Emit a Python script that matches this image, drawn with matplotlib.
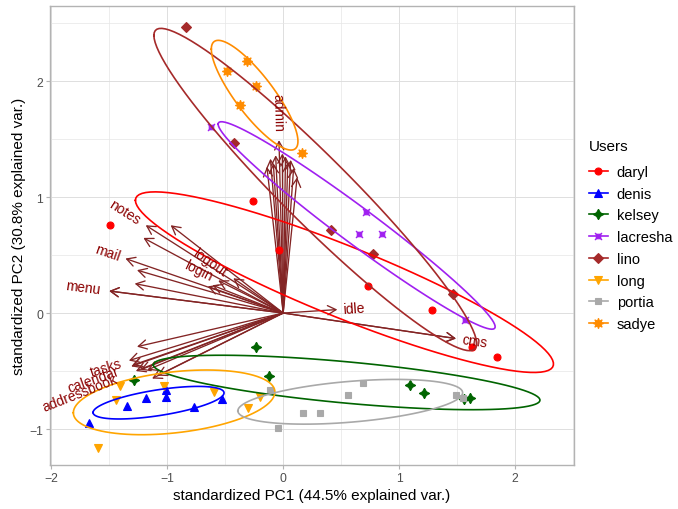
"""PCA biplot of users' feature usage (ggbiplot style)."""

import numpy as np
import matplotlib
matplotlib.use("Agg")
import matplotlib.pyplot as plt
from matplotlib.lines import Line2D
from matplotlib.path import Path

plt.rcParams["font.family"] = ["Liberation Sans", "DejaVu Sans"]

# ---- scores (standardized PC1, PC2) per user --------------------------------
users = ["daryl", "denis", "kelsey", "lacresha", "lino", "long", "portia", "sadye"]

daryl_x = [-1.49, -0.26, -0.033, 0.73, 1.28, 1.63, 1.84]
daryl_y = [0.757, 0.967, 0.547, 0.234, 0.028, -0.29, -0.38]
denis_x = [-1.67, -1.35, -1.18, -1.01, -1.01, -0.77, -0.53]
denis_y = [-0.95, -0.80, -0.73, -0.66, -0.72, -0.81, -0.74]
kelsey_x = [-0.23, -0.12, -1.29, 1.09, 1.21, 1.56, 1.61]
kelsey_y = [-0.29, -0.54, -0.58, -0.62, -0.69, -0.74, -0.73]
lacresha_x = [-0.62, 0.717, 0.65, 0.85, 1.57]
lacresha_y = [1.60, 0.875, 0.68, 0.68, -0.06]
lino_x = [-0.84, -0.42, 0.41, 0.774, 1.46]
lino_y = [2.47, 1.47, 0.714, 0.51, 0.16]
long_x = [-1.41, -1.03, -1.44, -0.60, -0.20, -0.30, -1.60]
long_y = [-0.63, -0.63, -0.75, -0.68, -0.72, -0.82, -1.16]
portia_x = [-0.11, 0.69, 0.56, 1.49, 0.17, 0.32, -0.045, 1.55]
portia_y = [-0.66, -0.60, -0.71, -0.71, -0.86, -0.86, -0.99, -0.73]
sadye_x = [-0.31, -0.48, -0.23, -0.375, 0.165]
sadye_y = [2.17, 2.09, 1.96, 1.79, 1.38]

# ---- variable loadings (arrow tips) ------------------------------------------
var_names = [
    "admin", "", "", "", "", "", "", "", "", "", "",
    "notes", "", "", "mail", "", "", "menu", "", "logout", "login", "", "",
    "idle", "cms", "",
    "", "tasks", "calendar", "addressbook", "", "", "", "", "",
]
var_x = [
    -0.036, -0.11, -0.065, -0.007, 0.02, 0.09, 0.12, 0.065, -0.14, 0.04, -0.085,
    -1.185, -0.97, -1.205, -1.36, -1.26, -1.28, -1.50, -1.50, -0.43, -0.56, -0.61, -0.65,
    0.467, 1.49, 1.49,
    -1.26, -1.33, -1.31, -1.27, -1.30, -1.23, -1.17, -1.13, -1.085,
]
var_y = [
    1.49, 1.33, 1.36, 1.375, 1.35, 1.25, 1.17, 1.32, 1.26, 1.30, 1.29,
    0.757, 0.757, 0.648, 0.47, 0.37, 0.254, 0.19, 0.19, 0.30, 0.28, 0.24, 0.23,
    0.03, -0.22, -0.22,
    -0.29, -0.41, -0.46, -0.50, -0.45, -0.49, -0.49, -0.565, -0.54,
]

xlabel = "standardized PC1 (44.5% explained var.)"
ylabel = "standardized PC2 (30.8% explained var.)"

# ---- styles -------------------------------------------------------------------
lacresha_marker = Path(
    [(-0.5, -0.5), (0.5, -0.5), (0.5, 0.5), (-0.5, 0.5), (-0.5, -0.5),
     (-0.8, -0.8), (0.8, 0.8), (-0.8, 0.8), (0.8, -0.8)],
    [Path.MOVETO, Path.LINETO, Path.LINETO, Path.LINETO, Path.CLOSEPOLY,
     Path.MOVETO, Path.LINETO, Path.MOVETO, Path.LINETO],
)

style = {
    "daryl": ("#FF0000", "o", 5),
    "denis": ("#0000FF", "^", 6),
    "kelsey": ("#006400", (4, 1, 0), 7.5),
    "lacresha": ("#A020F0", lacresha_marker, 5.2),
    "lino": ("#A52A2A", "D", 4.6),
    "long": ("#FFA500", "v", 6),
    "portia": ("#A9A9A9", "s", 5),
    "sadye": ("#FF8C00", (8, 1, 0), 7.5),
}
ARROW_COLOR = "#832424"
TEXT_COLOR = "#8B0000"


def ellipse_path(x, y, prob=0.68, n=100):
    """Normal-theory ellipse as ggbiplot draws it."""
    pts = np.column_stack([x, y])
    mu = pts.mean(axis=0)
    sigma = np.cov(pts, rowvar=False)
    ed = np.sqrt(-2 * np.log(1 - prob))  # qchisq(prob, df=2)
    theta = np.linspace(-np.pi, np.pi, n)
    circle = np.column_stack([np.cos(theta), np.sin(theta)])
    chol = np.linalg.cholesky(sigma).T
    return circle @ chol * ed + mu


def main():
    data = {
        "daryl": (daryl_x, daryl_y), "denis": (denis_x, denis_y),
        "kelsey": (kelsey_x, kelsey_y), "lacresha": (lacresha_x, lacresha_y),
        "lino": (lino_x, lino_y), "long": (long_x, long_y),
        "portia": (portia_x, portia_y), "sadye": (sadye_x, sadye_y),
    }

    fig = plt.figure(figsize=(6.78, 5.10), dpi=100)
    ax = fig.add_axes([50 / 678, 1 - 466 / 510, 524 / 678, 459 / 510])
    ax.set_xlim(-2.01, 2.507)
    ax.set_ylim(-1.31, 2.647)

    # arrows
    for vx, vy in zip(var_x, var_y):
        ax.annotate("", xy=(vx, vy), xytext=(0, 0),
                    arrowprops=dict(arrowstyle="->,head_length=0.6,head_width=0.33",
                                    color=ARROW_COLOR, lw=0.95,
                                    shrinkA=0, shrinkB=0),
                    zorder=2)

    # points
    for u in users:
        c, m, s = style[u]
        x, y = data[u]
        ax.plot(x, y, linestyle="none", marker=m, color=c, ms=s,
                mec=c, mew=0.8, zorder=3)

    # ellipses
    for u in users:
        c = style[u][0]
        x, y = data[u]
        ell = ellipse_path(x, y)
        ax.plot(ell[:, 0], ell[:, 1], color=c, lw=1.2, zorder=4)

    # variable labels, placed like ggbiplot (hjust = (1 - 1.5 * sign(x)) / 2)
    renderer = fig.canvas.get_renderer()
    for name, vx, vy in zip(var_names, var_x, var_y):
        if not name:
            continue
        angle = np.degrees(np.arctan(vy / vx))
        t = ax.text(0, 0, name, fontsize=10)
        w, _, _ = renderer.get_text_width_height_descent(name, t.get_fontproperties(), ismath=False)
        t.remove()
        w_pt = w * 72 / fig.dpi
        d = np.array([np.cos(np.radians(angle)), np.sin(np.radians(angle))])
        sign = 1 if vx > 0 else -1
        off = sign * 0.25 * w_pt * d
        ax.annotate(name, xy=(vx, vy), xytext=(off[0], off[1]),
                    textcoords="offset points", rotation=angle,
                    rotation_mode="anchor", ha="left" if vx > 0 else "right",
                    va="center", fontsize=10, color=TEXT_COLOR, zorder=5)

    # theme_light look
    ax.set_xticks([-2, -1, 0, 1, 2])
    ax.set_yticks([-1, 0, 1, 2])
    ax.set_xticks(np.arange(-2, 2.6, 0.5), minor=True)
    ax.set_yticks(np.arange(-1, 2.6, 0.5), minor=True)
    ax.grid(True, which="major", color="#DEDEDE", lw=0.7, zorder=0)
    ax.grid(True, which="minor", color="#E6E6E6", lw=0.5, zorder=0)
    ax.set_axisbelow(True)
    ax.tick_params(which="major", length=3, width=0.8, color="#B3B3B3",
                   labelcolor="#4D4D4D", labelsize=8.8, pad=2)
    ax.tick_params(which="minor", length=0)
    for sp in ax.spines.values():
        sp.set_color("#B3B3B3")
        sp.set_linewidth(1.0)
    ax.set_xlabel(xlabel, fontsize=11, labelpad=3)
    ax.set_ylabel(ylabel, fontsize=11, labelpad=2)

    # legend: title placed separately to get ggplot's spacing
    fig.text(589 / 678, 1 - 147 / 510, "Users", fontsize=11,
             ha="left", va="center")
    handles = [Line2D([], [], color=style[u][0], marker=style[u][1],
                      ms=style[u][2], mew=0.8, lw=1.2) for u in users]
    fig.legend(handles, users, loc="upper left",
               bbox_to_anchor=(589 / 678, 1 - 166 / 510), frameon=False,
               fontsize=10.5, handlelength=1.3, handletextpad=0.6,
               labelspacing=0.53, borderpad=0, borderaxespad=0)

    fig.savefig("out.png", dpi=100)
    plt.close(fig)


if __name__ == "__main__":
    main()
